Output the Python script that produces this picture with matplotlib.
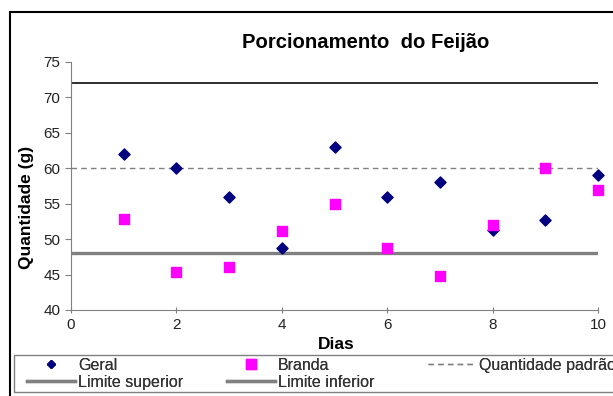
import matplotlib.pyplot as plt
from matplotlib.lines import Line2D
from matplotlib.patches import Rectangle

plt.rcParams['font.family'] = ['Liberation Sans', 'DejaVu Sans']

dias = [1, 2, 3, 4, 5, 6, 7, 8, 9, 10]
geral = [62, 60, 56, 48.7, 63, 56, 58, 51.3, 52.7, 59]
branda = [52.8, 45.4, 46, 51.1, 55, 48.8, 44.8, 52, 60, 57]
quantidade_padrao = 60
limite_superior = 72
limite_inferior = 48

fig = plt.figure(figsize=(6.13, 3.96), dpi=100)
ax = fig.add_axes([71 / 613, 1 - 310 / 396, 527 / 613, 248 / 396])

ax.scatter(dias, geral, marker='D', s=32, color='#000080', zorder=3, clip_on=False)
ax.scatter(dias, branda, marker='s', s=52, color='#FF00FF', zorder=3, clip_on=False)
ax.axhline(quantidade_padrao, color='#808080', lw=1, ls=(0, (4, 3)))
ax.axhline(limite_superior, color='#202020', lw=1.3)
ax.axhline(limite_inferior, color='#808080', lw=2.4)

ax.set_xlim(0, 10)
ax.set_ylim(40, 75)
ax.set_xticks(range(0, 11, 2))
ax.set_yticks(range(40, 76, 5))
for side in ['top', 'right']:
    ax.spines[side].set_visible(False)
for side in ['left', 'bottom']:
    ax.spines[side].set_color('#808080')
ax.tick_params(axis='both', colors='#808080', labelcolor='#222222',
               labelsize=11, length=4)
ax.tick_params(axis='x', direction='inout', pad=4)

ax.set_xlabel('Dias', fontsize=12.5, fontweight='bold')
ax.xaxis.set_label_coords(0.503, -0.107)
ax.set_ylabel('Quantidade (g)', fontsize=12.5, fontweight='bold')
ax.yaxis.set_label_coords(-0.085, 0.415)
ax.yaxis.label.set_va('center')

fig.text(366 / 613, 1 - 42 / 396, 'Porcionamento  do Feijão', ha='center',
         va='center', fontsize=14.6, fontweight='bold')

# outer frame of the chart
fig.patches.append(Rectangle((10 / 613, -0.05), 1.2, 1 - 12 / 396 + 0.05,
                             transform=fig.transFigure, fill=False,
                             edgecolor='black', lw=1.5))
# legend box
fig.patches.append(Rectangle((14 / 613, 4 / 396), 1.2, 37 / 396,
                             transform=fig.transFigure, fill=False,
                             edgecolor='#808080', lw=1))

gray = '#808080'
columns = [
    (27, [Line2D([], [], marker='D', ls='none', color='#000080', markersize=4),
          Line2D([], [], color=gray, lw=2.4)],
     ['Geral', 'Limite superior']),
    (227, [Line2D([], [], marker='s', ls='none', color='#FF00FF', markersize=7),
           Line2D([], [], color=gray, lw=2.4)],
     ['Branda', 'Limite inferior']),
    (428, [Line2D([], [], color=gray, lw=1, ls=(0, (4, 3)))],
     ['Quantidade padrão']),
]
for x0, handles, labels in columns:
    leg = fig.legend(handles, labels, loc='upper left',
                     bbox_to_anchor=(x0 / 613, 1 - 358 / 396),
                     fontsize=11.5, frameon=False, borderpad=0,
                     labelspacing=0.12, handlelength=3.0,
                     handletextpad=0.2, borderaxespad=0)
    for t in leg.get_texts():
        t.set_color('#333333')
    fig.add_artist(leg)

fig.savefig('out.png', dpi=100)
